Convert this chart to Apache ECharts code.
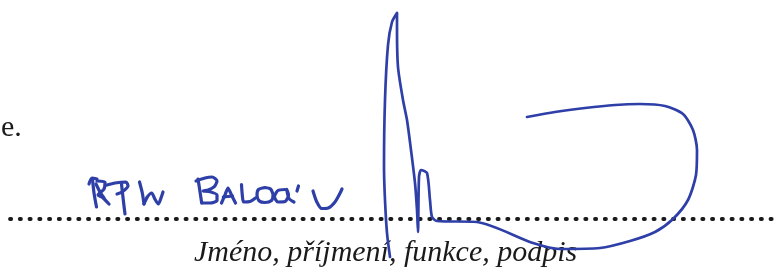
<!DOCTYPE html>
<html>
<head>
<meta charset="utf-8">
<script src="https://cdn.jsdelivr.net/npm/echarts@6/dist/echarts.min.js"></script>
<style>
  html, body { margin:0; padding:0; background:#fff; }
  #sig { width:779px; height:274px; }
</style>
</head>
<body>
<div id="sig"></div>
<script>
// pen strokes, [x, y] in page pixels (y down)
var strokeM1 = [[89,184],[92,178],[97,179]];
var strokeM2 = [[92.5,179],[94,193],[96.5,207]];
var strokeMdiag = [[96,184],[100,192],[104,198]];
var strokeR = [[97,181],[105,182],[104,189],[98,195],[102,197],[109,204]];
var strokeTbar = [[107,185],[115,183],[126,182],[128,186],[122,192],[117,194]];
var strokeTstem = [[121.5,184],[123.3,200],[125,214]];
var strokeI = [[139.5,182],[142.3,193],[144,204]];
var strokeN = [[144,204],[147.3,197],[151.7,193],[155,199.3],[158.3,204],[161.7,196],[163,192]];

var strokeBstem = [[198,179],[200,191.7],[201.7,203]];
var strokeBbow = [[196,181],[205,178],[212,177],[217,181],[214.3,186.7],[208.3,190],[203,191],[210,191.7],[217,195],[217,200.5],[210,203],[202,203]];
var strokeA = [[221.5,203],[225,195],[228,188],[231.5,195],[235.5,203]];
var strokeAbar = [[223.3,197],[232.5,196]];
var strokeL = [[241.5,184.5],[242.3,195],[243.7,202],[250,201.5],[255.5,198]];
var strokeO = [[265,187.5],[258.5,189.5],[257,195],[259.3,201],[265,202.5],[271.5,200.5],[273,195],[270.5,189],[265,187.5]];
var strokeA2 = [[285,189.5],[278,190.5],[274.5,196.7],[278,202],[285,201.5],[288.5,195],[286.7,189.5],[289,198.5],[294,202]];
var strokeTick = [[298.5,186],[297,191]];
var strokeU = [[313,191],[316.7,201.7],[321.7,208.5],[328.3,208],[335,202],[340,193.3],[342,189]];

var strokeBig = [[390,257],[387,233],[385,200],[384,167],[385,100],[388,45],[392,22],[397,13],
  [397,27],[398,67],[403,100],[407,120],[411,150],[415,183],[417,210],[418,232],
  [419,177],[421,170],[427,173],[430,200],[432,217],[437,221],[477,222],
  [533,243],[560,249],[600,248],[630,241],[655,232],[673,219],[688,200],[696,175],
  [697,150],[693,130],[683,114],[665,106],[640,104],[615,105],[585,108],[555,112],[527,117]];

var dotLine = [[10,219],[779,219]];

var letters = [strokeM1, strokeM2, strokeMdiag, strokeR, strokeTbar, strokeTstem, strokeI, strokeN,
  strokeBstem, strokeBbow, strokeA, strokeAbar, strokeL, strokeO, strokeA2, strokeTick, strokeU];

var ink = '#2e3fa8';

var series = [{
  type: 'line',
  data: dotLine,
  showSymbol: false,
  silent: true,
  lineStyle: { color: '#1a1a1a', width: 3.8, type: [1.2, 8.55], cap: 'round' },
  z: 1
}];
letters.forEach(function (s) {
  series.push({
    type: 'line',
    data: s,
    showSymbol: false,
    smooth: 0.25,
    silent: true,
    lineStyle: { color: ink, width: 3.2, cap: 'round', join: 'round' },
    z: 2
  });
});
series.push({
  type: 'line',
  data: strokeBig,
  showSymbol: false,
  smooth: 0.25,
  silent: true,
  lineStyle: { color: ink, width: 2.7, cap: 'round', join: 'round' },
  z: 2
});

var chart = echarts.init(document.getElementById('sig'));
chart.setOption({
  animation: false,
  grid: { left: 0, right: 0, top: 0, bottom: 0 },
  xAxis: { type: 'value', min: 0, max: 779, show: false },
  yAxis: { type: 'value', min: 0, max: 274, inverse: true, show: false },
  graphic: [
    { type: 'text', left: 1, top: 113,
      style: { text: 'e.', font: '30px "Liberation Serif"', fill: '#1a1a1a' } },
    { type: 'text', left: 194, top: 238,
      style: { text: 'Jméno, příjmení, funkce, podpis', font: 'italic 30px "Liberation Serif"', fill: '#1a1a1a' } }
  ],
  series: series
});
</script>
</body>
</html>
